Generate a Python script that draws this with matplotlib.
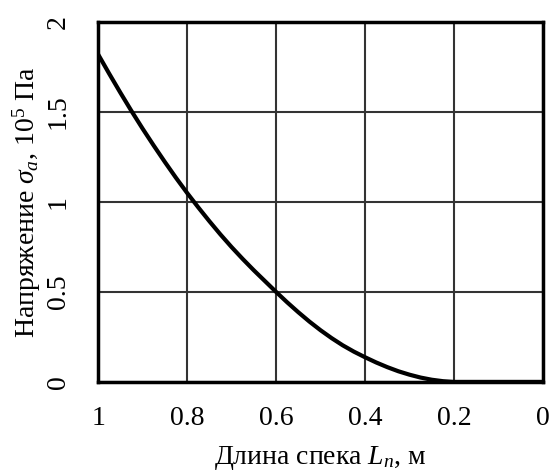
import matplotlib
matplotlib.use("Agg")
import matplotlib.pyplot as plt

plt.rcParams['font.family'] = ['Liberation Serif', 'DejaVu Serif']
plt.rcParams['mathtext.fontset'] = 'custom'
plt.rcParams['mathtext.rm'] = 'Liberation Serif'
plt.rcParams['mathtext.it'] = 'Liberation Serif:italic'
plt.rcParams['mathtext.bf'] = 'Liberation Serif:bold'

# Data
length_m = [1.0, 0.975, 0.95, 0.925, 0.9, 0.875, 0.85, 0.825, 0.8, 0.775, 0.75,
            0.725, 0.7, 0.675, 0.65, 0.625, 0.6, 0.575, 0.55, 0.525, 0.5, 0.475,
            0.45, 0.425, 0.4, 0.375, 0.35, 0.325, 0.3, 0.275, 0.25, 0.225, 0.2,
            0.1, 0.0]
stress = [1.82, 1.712, 1.607, 1.505, 1.407, 1.313, 1.222, 1.134, 1.05, 0.97, 0.893,
          0.819, 0.749, 0.683, 0.62, 0.56, 0.50, 0.442, 0.387, 0.335, 0.287, 0.243,
          0.203, 0.168, 0.137, 0.108, 0.082, 0.059, 0.04, 0.024, 0.012, 0.004, 0.0,
          0.0, 0.0]
x_ticks = [1, 0.8, 0.6, 0.4, 0.2, 0]
x_tick_labels = ['1', '0.8', '0.6', '0.4', '0.2', '0']
y_ticks = [0, 0.5, 1, 1.5, 2]
y_tick_labels = ['0', '0.5', '1', '1.5', '2']

fig = plt.figure(figsize=(5.51, 4.75), dpi=100)
ax = fig.add_axes([0.178, 0.196, 0.8075, 0.758])

ax.plot(length_m, stress, color='black', lw=3.0, solid_joinstyle='round')
ax.set_xlim(1, 0)
ax.set_ylim(0, 2)
ax.set_xticks(x_ticks)
ax.set_xticklabels(x_tick_labels)
ax.set_yticks(y_ticks)
ax.set_yticklabels(y_tick_labels, rotation=90, va='center')
ax.tick_params(length=0, labelsize=20)
ax.tick_params(axis='x', pad=17)
ax.tick_params(axis='y', pad=19.5)
ax.grid(True, color='#333333', lw=1.5)
ax.set_axisbelow(True)
for s in ax.spines.values():
    s.set_linewidth(2.5)
    s.set_color('black')

ax.set_xlabel('Длина спека $\\mathit{L}_{\\mathit{п}}$, м', fontsize=20, labelpad=10)
ax.set_ylabel('Напряжение $\\mathit{\\sigma}_{\\mathit{a}}$, 10$^5$ Па', fontsize=20, labelpad=2)

fig.savefig('out.png', dpi=100)
